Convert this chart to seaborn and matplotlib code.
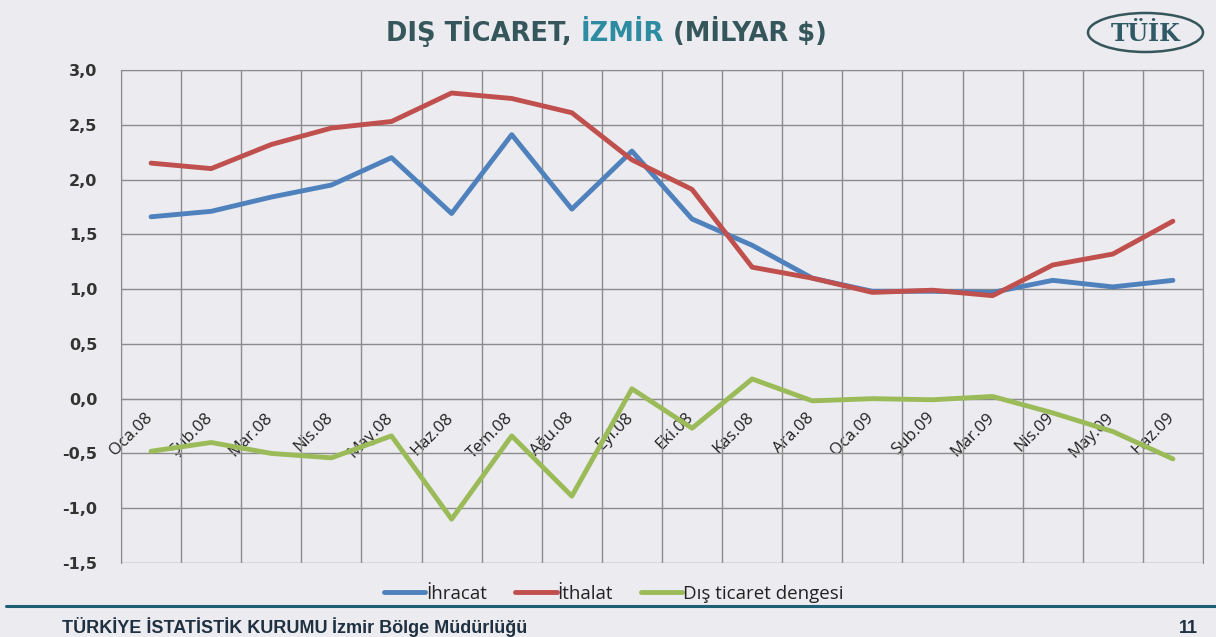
import pandas as pd
import matplotlib.pyplot as plt
import seaborn as sns
from matplotlib.patches import Ellipse
from matplotlib.lines import Line2D
from matplotlib.transforms import ScaledTranslation

months = ['Oca.08', 'Şub.08', 'Mar.08', 'Nis.08', 'May.08', 'Haz.08',
          'Tem.08', 'Ağu.08', 'Eyl.08', 'Eki.08', 'Kas.08', 'Ara.08',
          'Oca.09', 'Şub.09', 'Mar.09', 'Nis.09', 'May.09', 'Haz.09']
ihracat = [1.66, 1.71, 1.84, 1.95, 2.20, 1.69, 2.41, 1.73, 2.26, 1.64, 1.40, 1.10,
           0.98, 0.98, 0.97, 1.08, 1.02, 1.08]
ithalat = [2.15, 2.10, 2.32, 2.47, 2.53, 2.79, 2.74, 2.61, 2.18, 1.91, 1.20, 1.10,
           0.97, 0.99, 0.94, 1.22, 1.32, 1.62]
denge = [-0.48, -0.40, -0.50, -0.54, -0.34, -1.10, -0.34, -0.89, 0.09, -0.27, 0.18, -0.02,
         0.00, -0.01, 0.02, -0.13, -0.30, -0.55]
series_names = ['İhracat', 'İthalat', 'Dış ticaret dengesi']
colors = ['#4f81bd', '#c0504d', '#9bbb59']
y_ticks = [-1.5, -1.0, -0.5, 0.0, 0.5, 1.0, 1.5, 2.0, 2.5, 3.0]

bg = '#ebebf0'
grid_c = '#8c8c8c'
sns.set_style('white')
plt.rcParams['font.family'] = ['Open Sans', 'DejaVu Sans']

df = pd.DataFrame({'ay': list(range(len(months))) * 3,
                   'deger': ihracat + ithalat + denge,
                   'seri': [s for s in series_names for _ in months]})

fig = plt.figure(figsize=(12.16, 6.37), dpi=100, facecolor=bg)
ax = fig.add_axes([0.0995, 0.1162, 0.8898, 0.7739])
ax.set_facecolor(bg)

sns.lineplot(data=df, x='ay', y='deger', hue='seri', hue_order=series_names,
             palette=colors, linewidth=3.5, ax=ax, legend=False, zorder=3)

ax.set_xlim(-0.5, len(months) - 0.5)
ax.set_ylim(-1.5, 3.0)
ax.set_xlabel('')
ax.set_ylabel('')

# vertical grid at category borders, horizontal grid at y ticks
ax.set_xticks([i - 0.5 for i in range(len(months) + 1)], minor=True)
ax.grid(which='minor', axis='x', color=grid_c, linewidth=1.0, zorder=1)
ax.set_yticks(y_ticks)
ax.set_yticklabels([f'{v:.1f}'.replace('.', ',') for v in y_ticks],
                   family='DejaVu Sans', fontsize=11.5, color='#333333', fontweight='bold')
ax.grid(which='major', axis='y', color=grid_c, linewidth=1.0, zorder=1)
ax.tick_params(axis='y', length=0, pad=17)
ax.tick_params(axis='x', which='both', length=0)

# x labels sit on the zero line
ax.spines['bottom'].set_position(('data', 0))
for s in ['bottom', 'left', 'right', 'top']:
    ax.spines[s].set_color(grid_c)
ax.set_xticks(range(len(months)))
ax.set_xticklabels(months, rotation=45, ha='right', va='center', rotation_mode='anchor',
                   fontsize=12, color='#222222')
ax.tick_params(axis='x', pad=12)
shift = ScaledTranslation(-1 / 100, 0, fig.dpi_scale_trans)
for lab in ax.get_xticklabels():
    lab.set_transform(lab.get_transform() + shift)

# legend
handles = [Line2D([0], [0], color=c, linewidth=3.5) for c in colors]
fig.legend(handles, series_names, loc='center', bbox_to_anchor=(0.505, 0.068),
           ncol=3, frameon=False, fontsize=13.5, handlelength=2.2, handletextpad=0.05,
           columnspacing=1.5, labelcolor='#222222')


def text_row(parts, x0, y, center=False, **kw):
    # place text pieces one after another on a common baseline
    fig.canvas.draw()
    renderer = fig.canvas.get_renderer()
    placed = []
    x = 0.0
    for s, c, w in parts:
        t = fig.text(x, y, s, color=c, fontweight=w, ha='left', va='baseline', **kw)
        placed.append(t)
        x += t.get_window_extent(renderer).width / fig.bbox.width
    start = x0 - x / 2 if center else x0
    for t in placed:
        t.set_position((start + t.get_position()[0], y))


# title with coloured word
dark = '#35565a'
teal = '#2e8ca2'
text_row([('DIŞ TİCARET, ', dark, 'bold'), ('İZMİR', teal, 'bold'),
          (' (MİLYAR $)', dark, 'bold')],
         606 / 1216, 1 - 41 / 637, center=True, fontsize=18.5, family='DejaVu Sans')

# logo
fig.patches.append(Ellipse((1145.5 / 1216, 1 - 32.5 / 637), 115 / 1216, 39 / 637,
                           transform=fig.transFigure, facecolor='none',
                           edgecolor='#35565a', linewidth=1.8))
fig.text(1145.5 / 1216, 1 - 41 / 637, 'TÜİK', family='DejaVu Serif', fontsize=17,
         fontweight='bold', color='#2f5a66', ha='center', va='baseline')

# footer
fig.add_artist(Line2D([0.005, 1.0], [1 - 606 / 637, 1 - 606 / 637], transform=fig.transFigure,
                      color='#1f5f75', linewidth=2.2))
foot = '#1f3040'
text_row([('TÜRKİYE İSTATİSTİK KURUMU ', foot, 'bold'), ('İzmir Bölge Müdürlüğü', foot, 'bold')],
         62 / 1216, 1 - 633 / 637, fontsize=13, family='Liberation Sans')
fig.text(1198 / 1216, 1 - 633 / 637, '11', fontsize=13, fontweight='bold',
         color=foot, va='baseline', ha='right', family='Liberation Sans')

fig.savefig('out.png', dpi=100, facecolor=bg)
